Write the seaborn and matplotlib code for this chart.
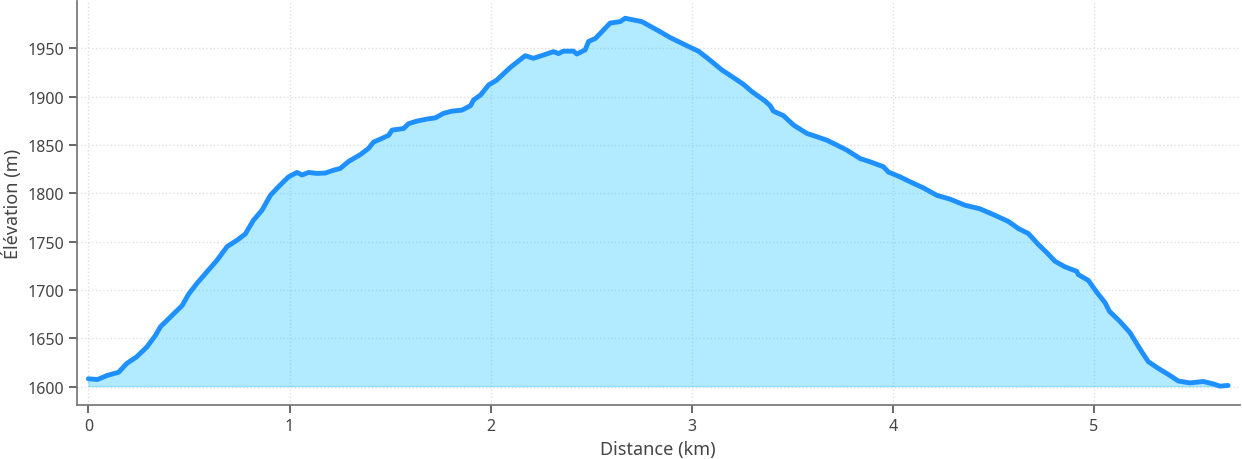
import pandas as pd
import matplotlib
matplotlib.use("Agg")
import matplotlib.pyplot as plt
import seaborn as sns

# Profil d'altitude
distance_km = [0.0, 0.045, 0.093, 0.15, 0.19, 0.24, 0.29, 0.333, 0.358, 0.407, 0.466, 0.499,
               0.54, 0.59, 0.64, 0.69, 0.739, 0.78, 0.82, 0.863, 0.905, 0.946, 0.995, 1.037,
               1.062, 1.095, 1.137, 1.178, 1.22, 1.252, 1.294, 1.352, 1.393, 1.418, 1.451,
               1.493, 1.51, 1.567, 1.592, 1.634, 1.683, 1.725, 1.766, 1.808, 1.857, 1.9,
               1.915, 1.95, 1.99, 2.03, 2.097, 2.172, 2.213, 2.263, 2.313, 2.337, 2.362,
               2.412, 2.429, 2.47, 2.487, 2.52, 2.553, 2.594, 2.644, 2.669, 2.752, 2.835,
               2.893, 2.984, 3.033, 3.083, 3.15, 3.2, 3.257, 3.3, 3.365, 3.39, 3.406, 3.456,
               3.506, 3.572, 3.622, 3.671, 3.705, 3.771, 3.837, 3.887, 3.953, 3.978, 4.036,
               4.085, 4.152, 4.218, 4.284, 4.359, 4.433, 4.5, 4.574, 4.624, 4.674, 4.724,
               4.765, 4.806, 4.856, 4.914, 4.922, 4.972, 5.013, 5.055, 5.077, 5.129, 5.179,
               5.229, 5.27, 5.32, 5.378, 5.419, 5.477, 5.543, 5.593, 5.626, 5.667]
elevation_m = [1608.3, 1607.5, 1611.7, 1615, 1624, 1631, 1641, 1653, 1662, 1672, 1684, 1696,
               1707, 1719, 1731, 1745, 1751.5, 1758, 1772, 1782.5, 1798, 1807, 1817, 1821.6,
               1819, 1821.6, 1820.6, 1821, 1824, 1825.7, 1833, 1840, 1846.5, 1853, 1856,
               1860, 1865.4, 1867, 1872, 1874.7, 1876.8, 1878, 1882.7, 1885, 1886, 1890.6,
               1896.5, 1901.7, 1912, 1917, 1930, 1942.3, 1939.6, 1943, 1946.5, 1944.5, 1947,
               1947, 1944, 1948.3, 1957, 1960, 1967, 1976, 1977.5, 1981, 1977.5, 1968,
               1961, 1951.8, 1947, 1939, 1927.5, 1920.7, 1912.7, 1905, 1895.4, 1890.6, 1885, 1880.3,
               1870.6, 1862, 1858.5, 1855, 1851.6, 1844.7, 1836, 1832.6, 1827.5, 1822, 1817,
               1812, 1805.6, 1798, 1794, 1787.7, 1784, 1778, 1771, 1763.6, 1758.4, 1747,
               1738.8, 1729.8, 1724, 1719.4, 1716, 1710, 1698, 1687, 1678, 1667.6, 1656,
               1639, 1626, 1619, 1611.7, 1606, 1604, 1605.5, 1603, 1600.7, 1601.4]

df = pd.DataFrame({"distance": distance_km, "elevation": elevation_m})

sns.set_theme(style="ticks")
plt.rcParams['font.family'] = ['Noto Sans', 'DejaVu Sans']

fig = plt.figure(figsize=(12.42, 4.6), dpi=100)
ax = fig.add_axes([0.062, 0.117, 0.936, 0.879])

base = min(elevation_m)
ax.fill_between(df["distance"], df["elevation"], base, color="deepskyblue", alpha=0.3)
sns.lineplot(data=df, x="distance", y="elevation", color="#1E90FF", linewidth=3.5, ax=ax)

ax.margins(x=0.01)
ax.set_ylim(1581, 1999)
ax.grid(True, linestyle=":", color="#e0e0e0", linewidth=1)
sns.despine(ax=ax)
for s in ["left", "bottom"]:
    ax.spines[s].set_color("#777777")
ax.tick_params(colors="#444444", labelsize=11.5, color="#555555")
ax.set_xlabel("Distance (km)", fontsize=13, color="#444444")
ax.set_ylabel("Élévation (m)", fontsize=13, color="#444444")

fig.savefig("out.png", dpi=100)
